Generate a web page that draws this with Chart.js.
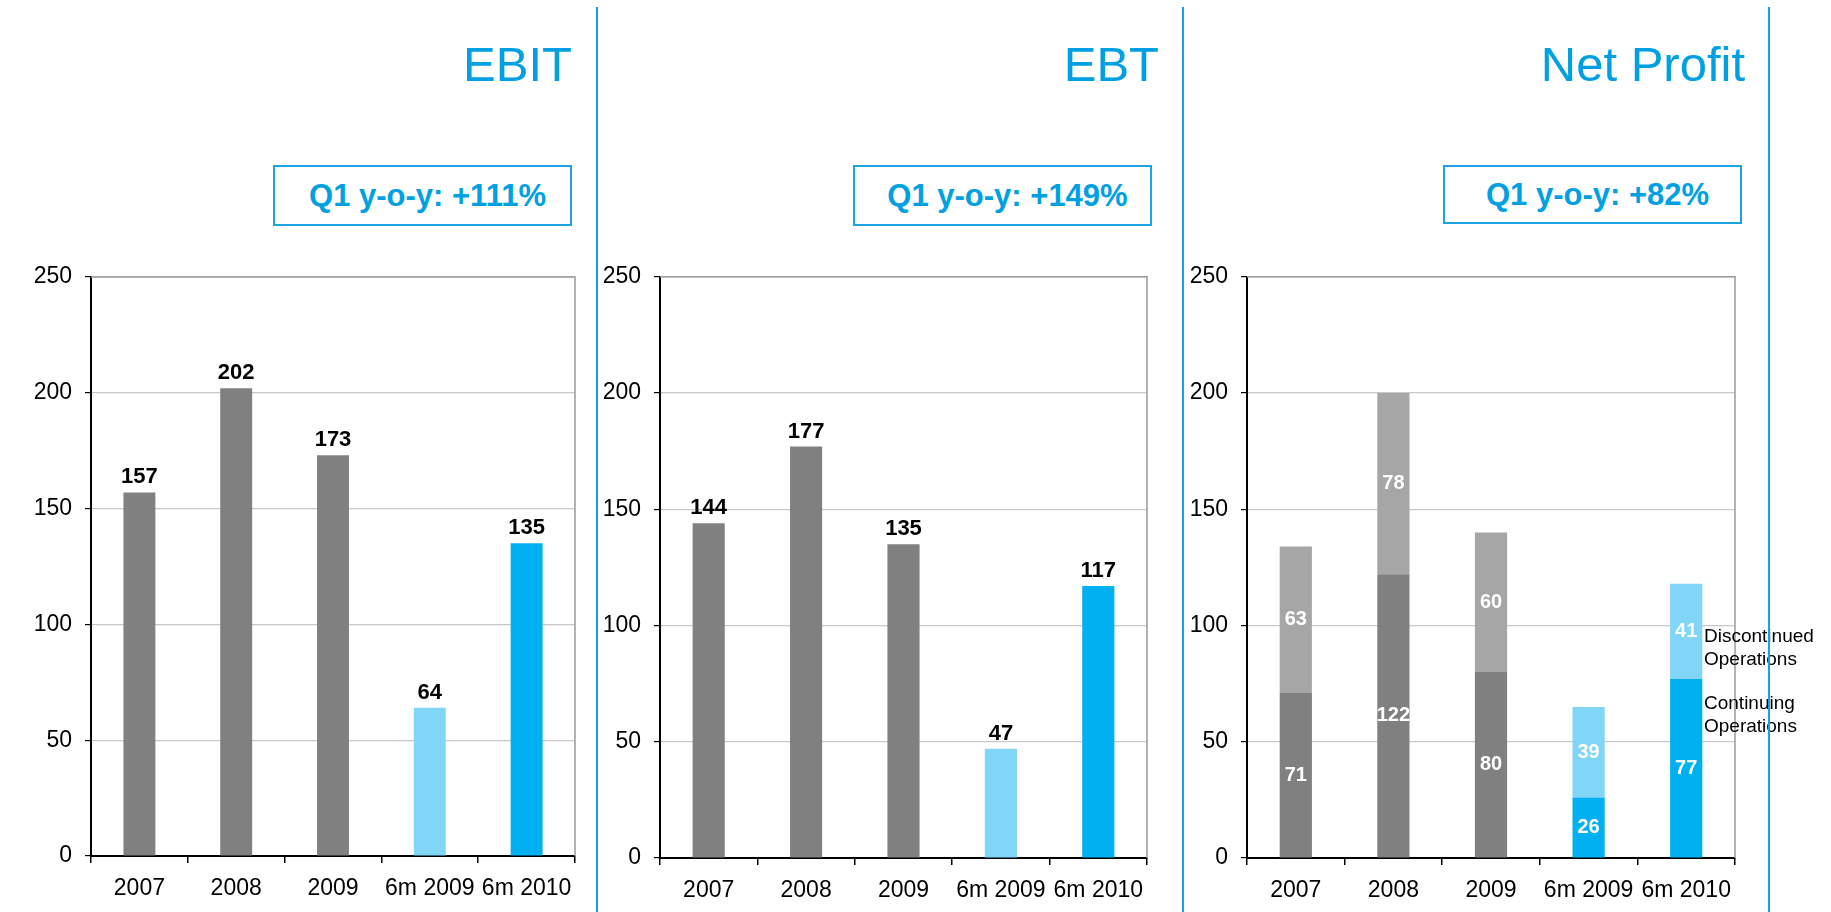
<!DOCTYPE html>
<html><head><meta charset="utf-8">
<script src="https://cdn.jsdelivr.net/npm/chart.js@4.4.1/dist/chart.umd.min.js"></script>
<style>
html,body{margin:0;padding:0;background:#fff;width:1831px;height:912px;overflow:hidden;font-family:"Liberation Sans",Arial,sans-serif;}
canvas{position:absolute;top:250px;}
.title{position:absolute;top:40px;font-size:49px;line-height:49px;color:#00a0e3;white-space:nowrap;}
.box{position:absolute;top:165px;height:61px;border:2px solid #1ba3e3;box-sizing:border-box;display:flex;align-items:center;justify-content:center;padding-left:10px;font-weight:bold;font-size:31px;line-height:31px;color:#00a0e3;white-space:nowrap;}
.sep{position:absolute;top:7px;height:905px;width:2px;background:#1a9fe2;z-index:5}
.leg{position:absolute;left:1704px;font-size:19px;line-height:23px;color:#000;z-index:4;white-space:nowrap;}
</style></head>
<body>
<div class="title" style="right:1259px">EBIT</div>
<div class="title" style="right:672px">EBT</div>
<div class="title" style="right:86px">Net Profit</div>
<div class="box" style="left:273px;width:299px">Q1 y-o-y: +111%</div>
<div class="box" style="left:853px;width:299px">Q1 y-o-y: +149%</div>
<div class="box" style="left:1443px;width:299px;height:59px">Q1 y-o-y: +82%</div>
<div class="sep" style="left:596px"></div>
<div class="sep" style="left:1182px"></div>
<div class="sep" style="left:1768px"></div>
<div class="leg" style="top:624px">Discontinued<br>Operations</div>
<div class="leg" style="top:691px">Continuing<br>Operations</div>
<canvas id="c1" width="600" height="662" style="left:0px"></canvas>
<canvas id="c2" width="580" height="662" style="left:600px"></canvas>
<canvas id="c3" width="640" height="662" style="left:1187px"></canvas>
<script>
// ---- data ----
const categories = ['2007', '2008', '2009', '6m 2009', '6m 2010'];
const ebitValues = [157, 202, 173, 64, 135];
const ebtValues = [144, 177, 135, 47, 117];
const netContinuing = [71, 122, 80, 26, 77];
const netDiscontinued = [63, 78, 60, 39, 41];
const yMin = 0, yMax = 250, yStep = 50;

// ---- styles ----
const GREY = '#808080', LGREY = '#a6a6a6', LBLUE = '#81d6f7', BLUE = '#00b0f0';
const singleColors = [GREY, GREY, GREY, LBLUE, BLUE];
const contColors = [GREY, GREY, GREY, BLUE, BLUE];
const discColors = [LGREY, LGREY, LGREY, LBLUE, LBLUE];
const FONT = '"Liberation Sans", Arial, sans-serif';

const frameAndLabels = {
  id: 'frameAndLabels',
  afterDraw(chart, args, opts) {
    const ctx = chart.ctx, a = chart.chartArea;
    ctx.save();
    ctx.strokeStyle = '#9a9a9a';
    ctx.lineWidth = 1.5;
    ctx.beginPath();
    ctx.moveTo(a.left, a.top); ctx.lineTo(a.right, a.top); ctx.lineTo(a.right, a.bottom);
    ctx.stroke();
    ctx.textAlign = 'center';
    chart.data.datasets.forEach((ds, di) => {
      const meta = chart.getDatasetMeta(di);
      meta.data.forEach((el, i) => {
        const v = ds.data[i];
        if (opts.mode === 'top') {
          ctx.fillStyle = '#000';
          ctx.font = 'bold 22px ' + FONT;
          ctx.textBaseline = 'alphabetic';
          ctx.fillText(String(v), el.x, el.y - 9);
        } else {
          ctx.fillStyle = '#fff';
          ctx.font = 'bold 20px ' + FONT;
          ctx.textBaseline = 'middle';
          ctx.fillText(String(v), el.x, (el.y + el.base) / 2);
        }
      });
    });
    ctx.restore();
  }
};

function makeChart(id, datasets, cfg) {
  return new Chart(document.getElementById(id), {
    type: 'bar',
    data: { labels: categories, datasets },
    plugins: [frameAndLabels],
    options: {
      responsive: false, animation: false, devicePixelRatio: 1,
      layout: { padding: { top: cfg.padTop, right: cfg.padRight, left: 0, bottom: 0 } },
      plugins: { legend: { display: false }, tooltip: { enabled: false }, frameAndLabels: { mode: cfg.mode } },
      datasets: { bar: { barPercentage: 0.33, categoryPercentage: 1.0 } },
      scales: {
        x: {
          stacked: true, offset: true,
          grid: { offset: true, drawOnChartArea: false, drawTicks: true, tickLength: 7, color: '#000', tickColor: '#000', lineWidth: 1.5 },
          border: { display: true, color: '#000', width: 2 },
          ticks: { color: '#000', font: { size: 23, family: FONT }, padding: 12, maxRotation: 0, autoSkip: false },
          afterFit(s) { s.height = cfg.xHeight; }
        },
        y: {
          stacked: true, min: yMin, max: yMax,
          ticks: { stepSize: yStep, color: '#000', font: { size: 23, family: FONT }, padding: 13 },
          grid: { color: '#c8c8c8', lineWidth: 1.2, tickColor: '#000', tickLength: 6, drawTicks: true },
          border: { display: true, color: '#000', width: 2 },
          afterFit(s) { s.width = cfg.yWidth; }
        }
      }
    }
  });
}

makeChart('c1', [{ label: 'EBIT', data: ebitValues, backgroundColor: singleColors }],
  { padTop: 27, padRight: 25, yWidth: 91, xHeight: 56, mode: 'top' });
makeChart('c2', [{ label: 'EBT', data: ebtValues, backgroundColor: singleColors }],
  { padTop: 26, padRight: 33, yWidth: 60, xHeight: 54, mode: 'top' });
makeChart('c3', [
  { label: 'Continuing Operations', data: netContinuing, backgroundColor: contColors },
  { label: 'Discontinued Operations', data: netDiscontinued, backgroundColor: discColors }
], { padTop: 26, padRight: 92, yWidth: 60, xHeight: 54, mode: 'center' });
</script>
</body></html>
